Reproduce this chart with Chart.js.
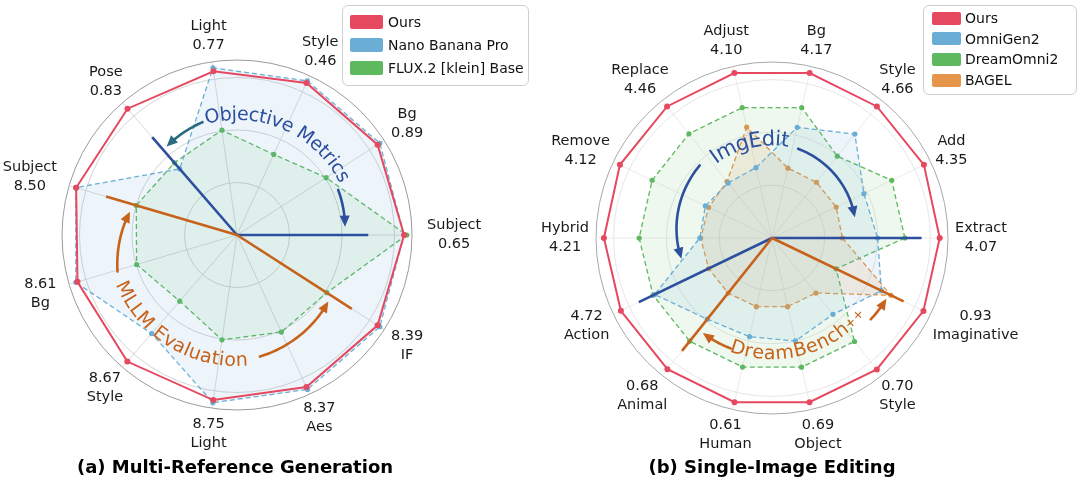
<!DOCTYPE html>
<html>
<head>
<meta charset="utf-8">
<script src="https://cdn.jsdelivr.net/npm/chart.js@4.4.1/dist/chart.umd.min.js"></script>
<style>
  body { margin: 0; background: #fff; font-family: "DejaVu Sans", sans-serif; }
  #page { position: relative; width: 1080px; height: 482px; overflow: hidden; }
  .panel { position: absolute; top: 0; width: 540px; height: 482px; }
  .legend { position: absolute; box-sizing: border-box; background: rgba(255,255,255,0.92);
            border: 1.5px solid #cfcfcf; border-radius: 6px; font-size: 14px; color: #111; }
  .legend .row { display: flex; align-items: center; white-space: nowrap; }
  .legend .sw { display: inline-block; border-radius: 2px; }
  .caption { position: absolute; top: 456px; width: 540px; text-align: center;
             font-weight: bold; font-size: 18px; line-height: 22px; color: #000; }
</style>
</head>
<body>
<div id="page">
  <div class="panel" style="left:0"><canvas id="genChart"></canvas></div>
  <div class="panel" style="left:540px"><canvas id="editChart"></canvas></div>
  <div class="legend" id="genLegend" style="left:342px;top:5px;width:187px;height:81px;padding:4px 0 0 7px"></div>
  <div class="legend" id="editLegend" style="left:923px;top:5px;width:154px;height:90px;padding:2px 0 0 8px"></div>
  <div class="caption" style="left:-35px">(a) Multi-Reference Generation</div>
  <div class="caption" style="left:502px">(b) Single-Image Editing</div>
</div>
<script>
// ---- (a) multi-reference generation, axes clockwise from 3 o'clock ----
const genAxes = ["Subject", "IF", "Aes", "Light", "Style", "Bg", "Subject", "Pose", "Light", "Style", "Bg"];
const genScores = ["0.65", "8.39", "8.37", "8.75", "8.67", "8.61", "8.50", "0.83", "0.77", "0.46", "0.89"];
const genSeries = ["Ours", "Nano Banana Pro", "FLUX.2 [klein] Base"];
// normalised radius of each point
const genOurs = [0.955, 0.955, 0.955, 0.953, 0.957, 0.950, 0.958, 0.955, 0.945, 0.955, 0.955];
const genNano = [0.955, 0.970, 0.970, 0.968, 0.745, 0.960, 0.960, 0.500, 0.965, 0.968, 0.970];
const genFlux = [0.970, 0.610, 0.610, 0.605, 0.500, 0.598, 0.600, 0.546, 0.605, 0.506, 0.606];

// ---- (b) single-image editing, axes clockwise from 3 o'clock ----
const editAxes = ["Extract", "Imaginative", "Style", "Object", "Human", "Animal", "Action",
                  "Hybrid", "Remove", "Replace", "Adjust", "Bg", "Style", "Add"];
const editScores = ["4.07", "0.93", "0.70", "0.69", "0.61", "0.68", "4.72",
                    "4.21", "4.12", "4.46", "4.10", "4.17", "4.66", "4.35"];
const editSeries = ["Ours", "OmniGen2", "DreamOmni2", "BAGEL"];
const editOurs  = [0.953, 0.955, 0.955, 0.957, 0.957, 0.953, 0.953, 0.955, 0.959, 0.956, 0.961, 0.961, 0.956, 0.958];
const editOmni  = [0.600, 0.690, 0.555, 0.600, 0.575, 0.590, 0.740, 0.410, 0.420, 0.400, 0.410, 0.645, 0.755, 0.580];
const editDream = [0.755, 0.404, 0.752, 0.753, 0.752, 0.750, 0.750, 0.755, 0.756, 0.757, 0.760, 0.760, 0.595, 0.755];
const editBagel = [0.400, 0.750, 0.400, 0.400, 0.400, 0.400, 0.400, 0.405, 0.400, 0.410, 0.646, 0.407, 0.405, 0.405];

const gridTicks = [0, 0.3, 0.6, 0.9, 1.0];

const RED = "#e5485f", BLUE = "#6aaed6", GREEN = "#5db85e", ORANGE = "#e8954c";
const DEC_BLUE = "#2c4f9e", DEC_ORANGE = "#c7621b", DEC_TEAL = "#2b6b80";

//------------ drawing helpers ------------
const polar = (s, deg, r) => {
	const a = (deg * Math.PI) / 180;
	return { x: s.xCenter + r * Math.cos(a), y: s.yCenter - r * Math.sin(a) };
};

// text bent round the centre; top text runs clockwise, bottom text anticlockwise
const drawArcText = (ctx, s, t) => {
	const r = t.r * s.drawingArea;
	const chars = [];
	t.parts.forEach(([str, font]) => {
		ctx.font = font;
		[...str].forEach((ch) => chars.push({ ch, font, w: ctx.measureText(ch).width }));
	});
	const total = chars.reduce((sum, c) => sum + c.w, 0) / r;
	const dir = t.bottom ? 1 : -1;
	let a = (t.mid * Math.PI) / 180 - (dir * total) / 2;
	ctx.fillStyle = t.color;
	ctx.textAlign = "center";
	ctx.textBaseline = "middle";
	chars.forEach((c) => {
		a += (dir * c.w) / 2 / r;
		ctx.save();
		ctx.translate(s.xCenter + r * Math.cos(a), s.yCenter - r * Math.sin(a));
		ctx.rotate(t.bottom ? 1.5 * Math.PI - a : Math.PI / 2 - a);
		ctx.font = c.font;
		ctx.fillText(c.ch, 0, 0);
		ctx.restore();
		a += (dir * c.w) / 2 / r;
	});
};

const drawArcArrow = (ctx, s, ar) => {
	const R = s.drawingArea, n = 40, head = 11, pts = [];
	for (let k = 0; k <= n; k++) {
		const f = k / n;
		pts.push(polar(s, ar.from + (ar.to - ar.from) * f, (ar.r0 + (ar.r1 - ar.r0) * f) * R));
	}
	const tip = pts[n], back = pts[n - 4];
	let ux = tip.x - back.x, uy = tip.y - back.y;
	const len = Math.hypot(ux, uy);
	ux /= len; uy /= len;
	ctx.strokeStyle = ar.color;
	ctx.fillStyle = ar.color;
	ctx.lineWidth = 2.6;
	ctx.lineCap = "round";
	ctx.setLineDash([]);
	ctx.beginPath();
	pts.filter((p) => Math.hypot(tip.x - p.x, tip.y - p.y) > head * 0.7)
		.forEach((p, k) => (k ? ctx.lineTo(p.x, p.y) : ctx.moveTo(p.x, p.y)));
	ctx.stroke();
	const bx = tip.x - ux * head, by = tip.y - uy * head;
	ctx.beginPath();
	ctx.moveTo(tip.x, tip.y);
	ctx.lineTo(bx - uy * 5, by + ux * 5);
	ctx.lineTo(bx + uy * 5, by - ux * 5);
	ctx.closePath();
	ctx.fill();
};

// axis names + scores outside the outer ring, and the group annotations
const makeDecor = (names, scores, decor) => ({
	id: "decor",
	afterDatasetsDraw(chart) {
		const s = chart.scales.r, ctx = chart.ctx;
		ctx.save();
		decor.lines.forEach((ln) => {
			const p = s.getPointPosition(ln.index, s.getDistanceFromCenterForValue(ln.len));
			ctx.strokeStyle = ln.color;
			ctx.lineWidth = 2.6;
			ctx.setLineDash([]);
			ctx.beginPath();
			ctx.moveTo(s.xCenter, s.yCenter);
			ctx.lineTo(p.x, p.y);
			ctx.stroke();
		});
		decor.arrows.forEach((ar) => drawArcArrow(ctx, s, ar));
		decor.texts.forEach((t) => drawArcText(ctx, s, t));

		ctx.font = '14.5px "DejaVu Sans"';
		ctx.fillStyle = "#1a1a1a";
		ctx.textAlign = "center";
		ctx.textBaseline = "middle";
		const lineH = 19;
		names.forEach((name, i) => {
			const ang = s.getPointPosition(i, 1).angle;
			const extra = decor.sidePad * Math.pow(Math.cos(ang), 4);
			const p = s.getPointPosition(i, s.drawingArea + 7 + extra);
			const lines = p.y <= s.yCenter + 1 ? [name, scores[i]] : [scores[i], name];
			const w = Math.max(...lines.map((t) => ctx.measureText(t).width));
			const h = lines.length * lineH;
			const cx = p.x + (Math.cos(p.angle) * w) / 2;
			const cy = p.y + (Math.sin(p.angle) * h) / 2;
			lines.forEach((t, k) => ctx.fillText(t, cx, cy - h / 2 + lineH * (k + 0.5)));
		});
		ctx.restore();
	},
});

const getConfig = (names, scores, series, values, colors, fills, decor, padding, gridCols) => ({
	type: "radar",
	data: {
		labels: names,
		datasets: series.map((name, k) => ({
			label: name,
			data: values[k],
			borderColor: colors[k],
			backgroundColor: fills[k],
			pointBackgroundColor: colors[k],
			pointBorderWidth: 0,
			pointRadius: k === 0 ? 3 : 2.6,
			borderWidth: k === 0 ? 2 : 1.3,
			borderDash: k === 0 ? [] : [5, 3],
			fill: k !== 0,
		})),
	},
	options: {
		responsive: true,
		maintainAspectRatio: false,
		animation: false,
		layout: { padding },
		elements: { line: { tension: 0 } },
		scales: {
			r: {
				min: 0,
				max: 1,
				startAngle: 90,
				afterBuildTicks: (scale) => {
					scale.ticks = gridTicks.map((v) => ({ value: v }));
				},
				ticks: { display: false },
				pointLabels: { display: false },
				grid: {
					circular: true,
					color: (c) => (c.tick && c.tick.value >= 1 ? gridCols.outer : gridCols.inner),
					lineWidth: (c) => (c.tick && c.tick.value >= 1 ? 1 : 0.8),
				},
				angleLines: { color: gridCols.angle, lineWidth: 0.8 },
			},
		},
		plugins: {
			legend: { display: false },
			tooltip: { displayColors: false },
		},
	},
	plugins: [makeDecor(names, scores, decor)],
});

const buildLegend = (id, series, colors, sw) => {
	const box = document.getElementById(id);
	series.forEach((name, k) => {
		const row = document.createElement("div");
		row.className = "row";
		row.style.height = sw.row + "px";
		row.innerHTML = `<span class="sw" style="width:${sw.w}px;height:${sw.h}px;background:${colors[k]};margin-right:${sw.gap}px"></span><span>${name}</span>`;
		box.appendChild(row);
	});
};
//-----------------------------------------

const genColors = [RED, BLUE, GREEN];
const editColors = [RED, BLUE, GREEN, ORANGE];
const F19 = '19px "DejaVu Sans"';

const genDecor = {
	sidePad: 8,
	lines: [
		{ index: 0, len: 0.75, color: DEC_BLUE },
		{ index: 7, len: 0.74, color: DEC_BLUE },
		{ index: 6, len: 0.78, color: DEC_ORANGE },
		{ index: 1, len: 0.78, color: DEC_ORANGE },
	],
	arrows: [
		{ from: 107, to: 128.5, r0: 0.674, r1: 0.646, color: DEC_TEAL },
		{ from: 24, to: 4.4, r0: 0.633, r1: 0.619, color: DEC_BLUE },
		{ from: 197, to: 167.7, r0: 0.714, r1: 0.626, color: DEC_ORANGE },
		{ from: 280.7, to: 323.9, r0: 0.707, r1: 0.646, color: DEC_ORANGE },
	],
	texts: [
		{ parts: [["Objective Metrics", F19]], r: 0.686, mid: 66, bottom: false, color: DEC_BLUE },
		{ parts: [["MLLM Evaluation", F19]], r: 0.72, mid: 238.5, bottom: true, color: DEC_ORANGE },
	],
};

const editDecor = {
	sidePad: 0,
	lines: [
		{ index: 0, len: 0.85, color: DEC_BLUE },
		{ index: 6, len: 0.84, color: DEC_BLUE },
		{ index: 5, len: 0.82, color: DEC_ORANGE },
		{ index: 1, len: 0.83, color: DEC_ORANGE },
	],
	arrows: [
		{ from: 134.9, to: 192.9, r0: 0.582, r1: 0.528, color: DEC_BLUE },
		{ from: 73.7, to: 14.1, r0: 0.528, r1: 0.485, color: DEC_BLUE },
		{ from: 249.5, to: 234, r0: 0.67, r1: 0.668, color: DEC_ORANGE },
		{ from: 320.5, to: 332, r0: 0.727, r1: 0.736, color: DEC_ORANGE },
	],
	texts: [
		{ parts: [["ImgEdit", '21px "DejaVu Sans"']], r: 0.557, mid: 103.5, bottom: false, color: DEC_BLUE },
		{ parts: [["DreamBench", F19], ["++", '13px "DejaVu Sans"']], r: 0.66, mid: 285, bottom: true, color: DEC_ORANGE },
	],
};

const genChart = new Chart(
	document.getElementById("genChart"),
	getConfig(genAxes, genScores, genSeries, [genOurs, genNano, genFlux], genColors,
		["rgba(0,0,0,0)", "rgba(106,174,214,0.12)", "rgba(93,184,94,0.10)"],
		genDecor, { left: 62, right: 128, top: 60, bottom: 72 },
		{ inner: "#c8c8c8", outer: "#9a9a9a", angle: "#d0d0d0" })
);

const editChart = new Chart(
	document.getElementById("editChart"),
	getConfig(editAxes, editScores, editSeries, [editOurs, editOmni, editDream, editBagel], editColors,
		["rgba(0,0,0,0)", "rgba(106,174,214,0.12)", "rgba(93,184,94,0.10)", "rgba(232,149,76,0.14)"],
		editDecor, { left: 56, right: 132, top: 62, bottom: 68 },
		{ inner: "#e0e0e0", outer: "#a8a8a8", angle: "#e6e6e6" })
);

buildLegend("genLegend", genSeries, genColors, { row: 23, w: 33, h: 14, gap: 5 });
buildLegend("editLegend", editSeries, editColors, { row: 20.6, w: 29, h: 13, gap: 4 });
</script>
</body>
</html>
